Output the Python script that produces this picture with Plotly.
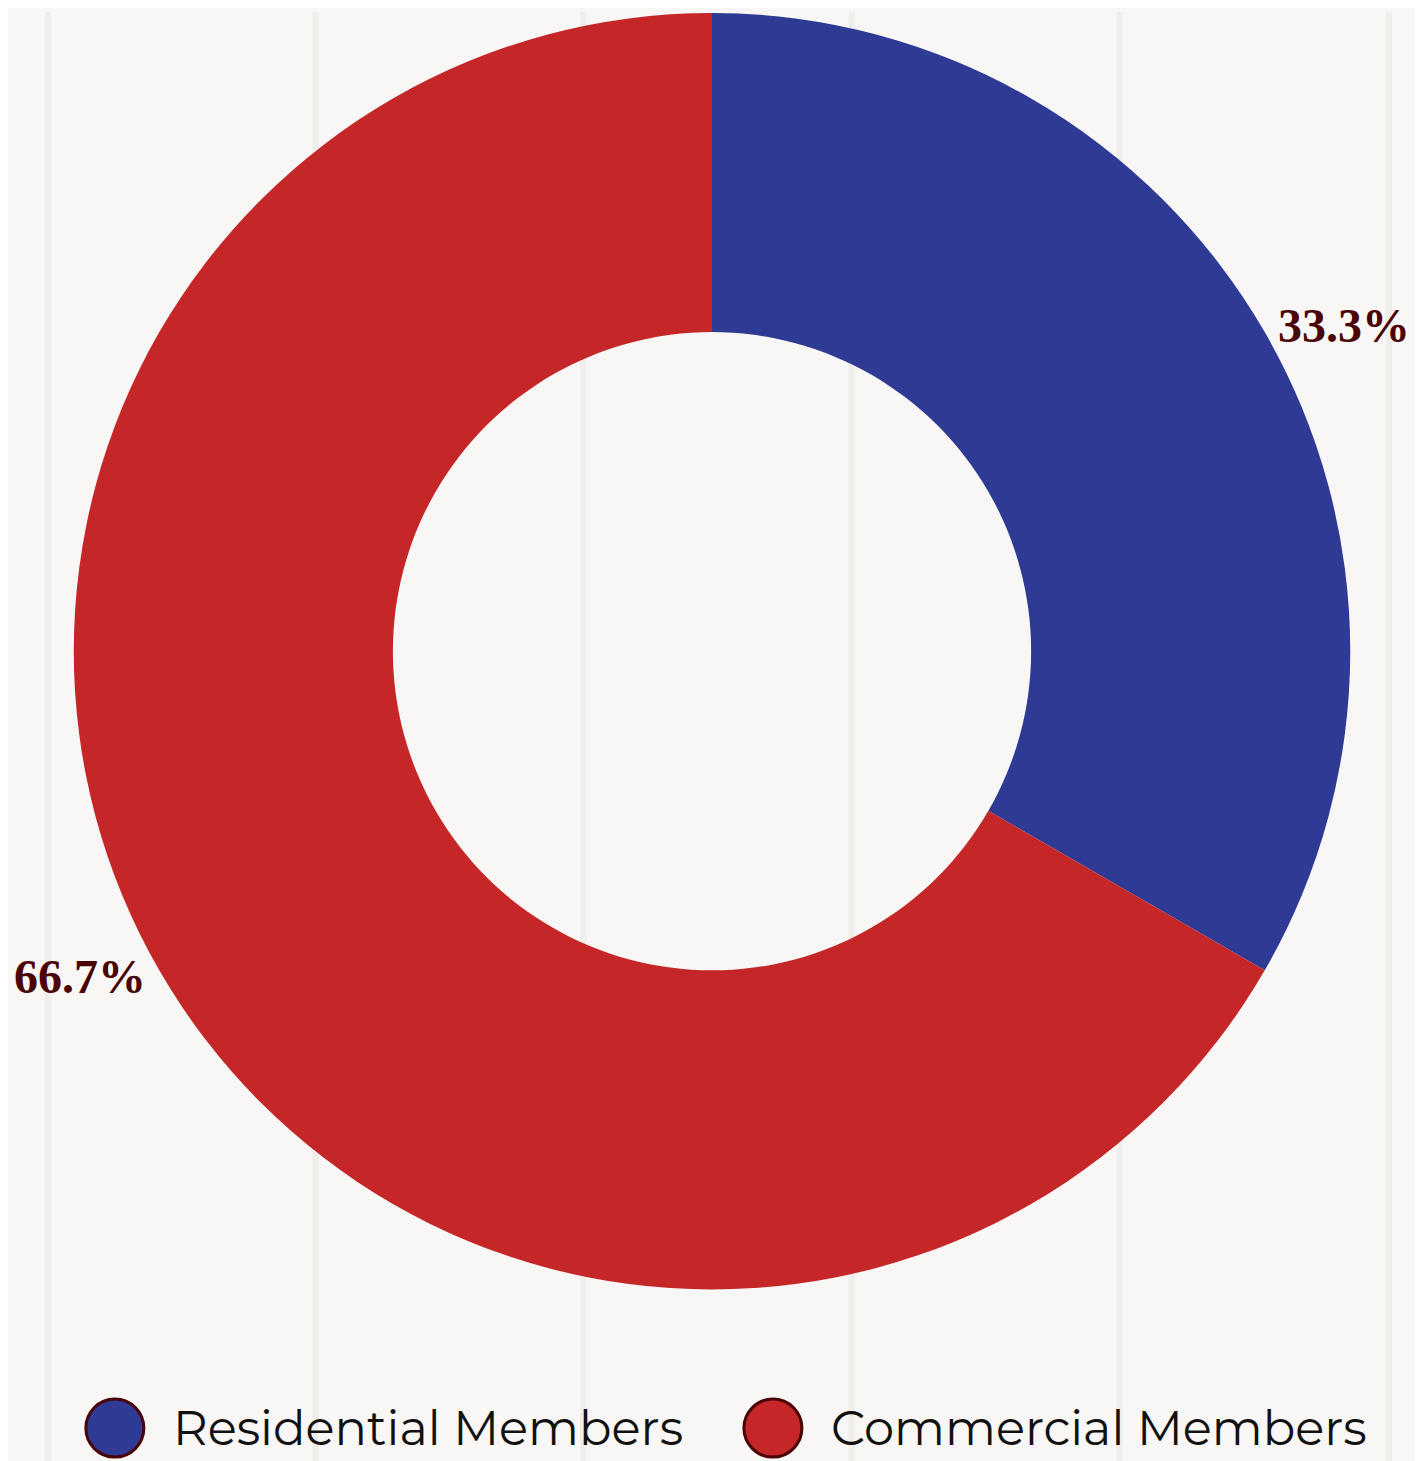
import plotly.graph_objects as go

# ---- data ----
categories = ["Residential Members", "Commercial Members"]
values = [1, 2]
colors = ["#2e3a94", "#c52628"]

BG = "#f8f7f5"
LABEL_COLOR = "#4a0406"
# page has an 8px default body margin, so the figure is sized to fit the window
OFF = 8
W, H = 1422 - OFF, 1461 - OFF

# pie geometry in page pixels (reference): centre (711, 649), radius 640
CX, CY, R = 711 - OFF, 649 - OFF, 640

fig = go.Figure()
fig.add_trace(go.Pie(
    labels=categories,
    values=values,
    hole=0.5,
    sort=False,
    direction="clockwise",
    rotation=0,
    marker=dict(colors=colors, line=dict(width=0)),
    textinfo="percent",
    texttemplate="%{percent:.1%}",
    textposition="outside",
    outsidetextfont=dict(family="Liberation Serif", size=48, color=LABEL_COLOR, weight="bold"),
    showlegend=False,
    hoverinfo="label+percent",
    domain=dict(x=[(CX - R) / W, (CX + R) / W],
                y=[(H - (CY + R)) / H, (H - (CY - R)) / H]),
))

shapes = []
# plank-like vertical background lines
for px in [46, 314, 582, 851, 1119, 1389]:
    xp = (px - OFF) / W
    shapes.append(dict(type="line", xref="paper", yref="paper",
                       x0=xp, x1=xp, y0=0, y1=1,
                       line=dict(color="#efeeeb", width=6), layer="below"))

# custom legend (circles + text), built from categories/colors
annotations = []
legend_y = (H - (1428 - OFF)) / H
legend_x_px = [113, 772]
for name, col, cx in zip(categories, colors, legend_x_px):
    shapes.append(dict(type="circle", xref="paper", yref="paper",
                       xsizemode="pixel", ysizemode="pixel",
                       xanchor=(cx - OFF) / W, yanchor=legend_y,
                       x0=-29, x1=29, y0=-29, y1=29,
                       fillcolor=col, line=dict(color="#4a0406", width=3)))
    annotations.append(dict(text=name, xref="paper", yref="paper",
                            x=(cx + 56 - OFF) / W, y=legend_y, xanchor="left", yanchor="middle",
                            showarrow=False,
                            font=dict(family="Montserrat, DejaVu Sans", size=48, color="#111111")))

fig.update_layout(
    width=W, height=H,
    paper_bgcolor=BG, plot_bgcolor=BG,
    margin=dict(l=0, r=0, t=0, b=0, pad=0),
    shapes=shapes,
    annotations=annotations,
)

fig.write_html("out.html")
